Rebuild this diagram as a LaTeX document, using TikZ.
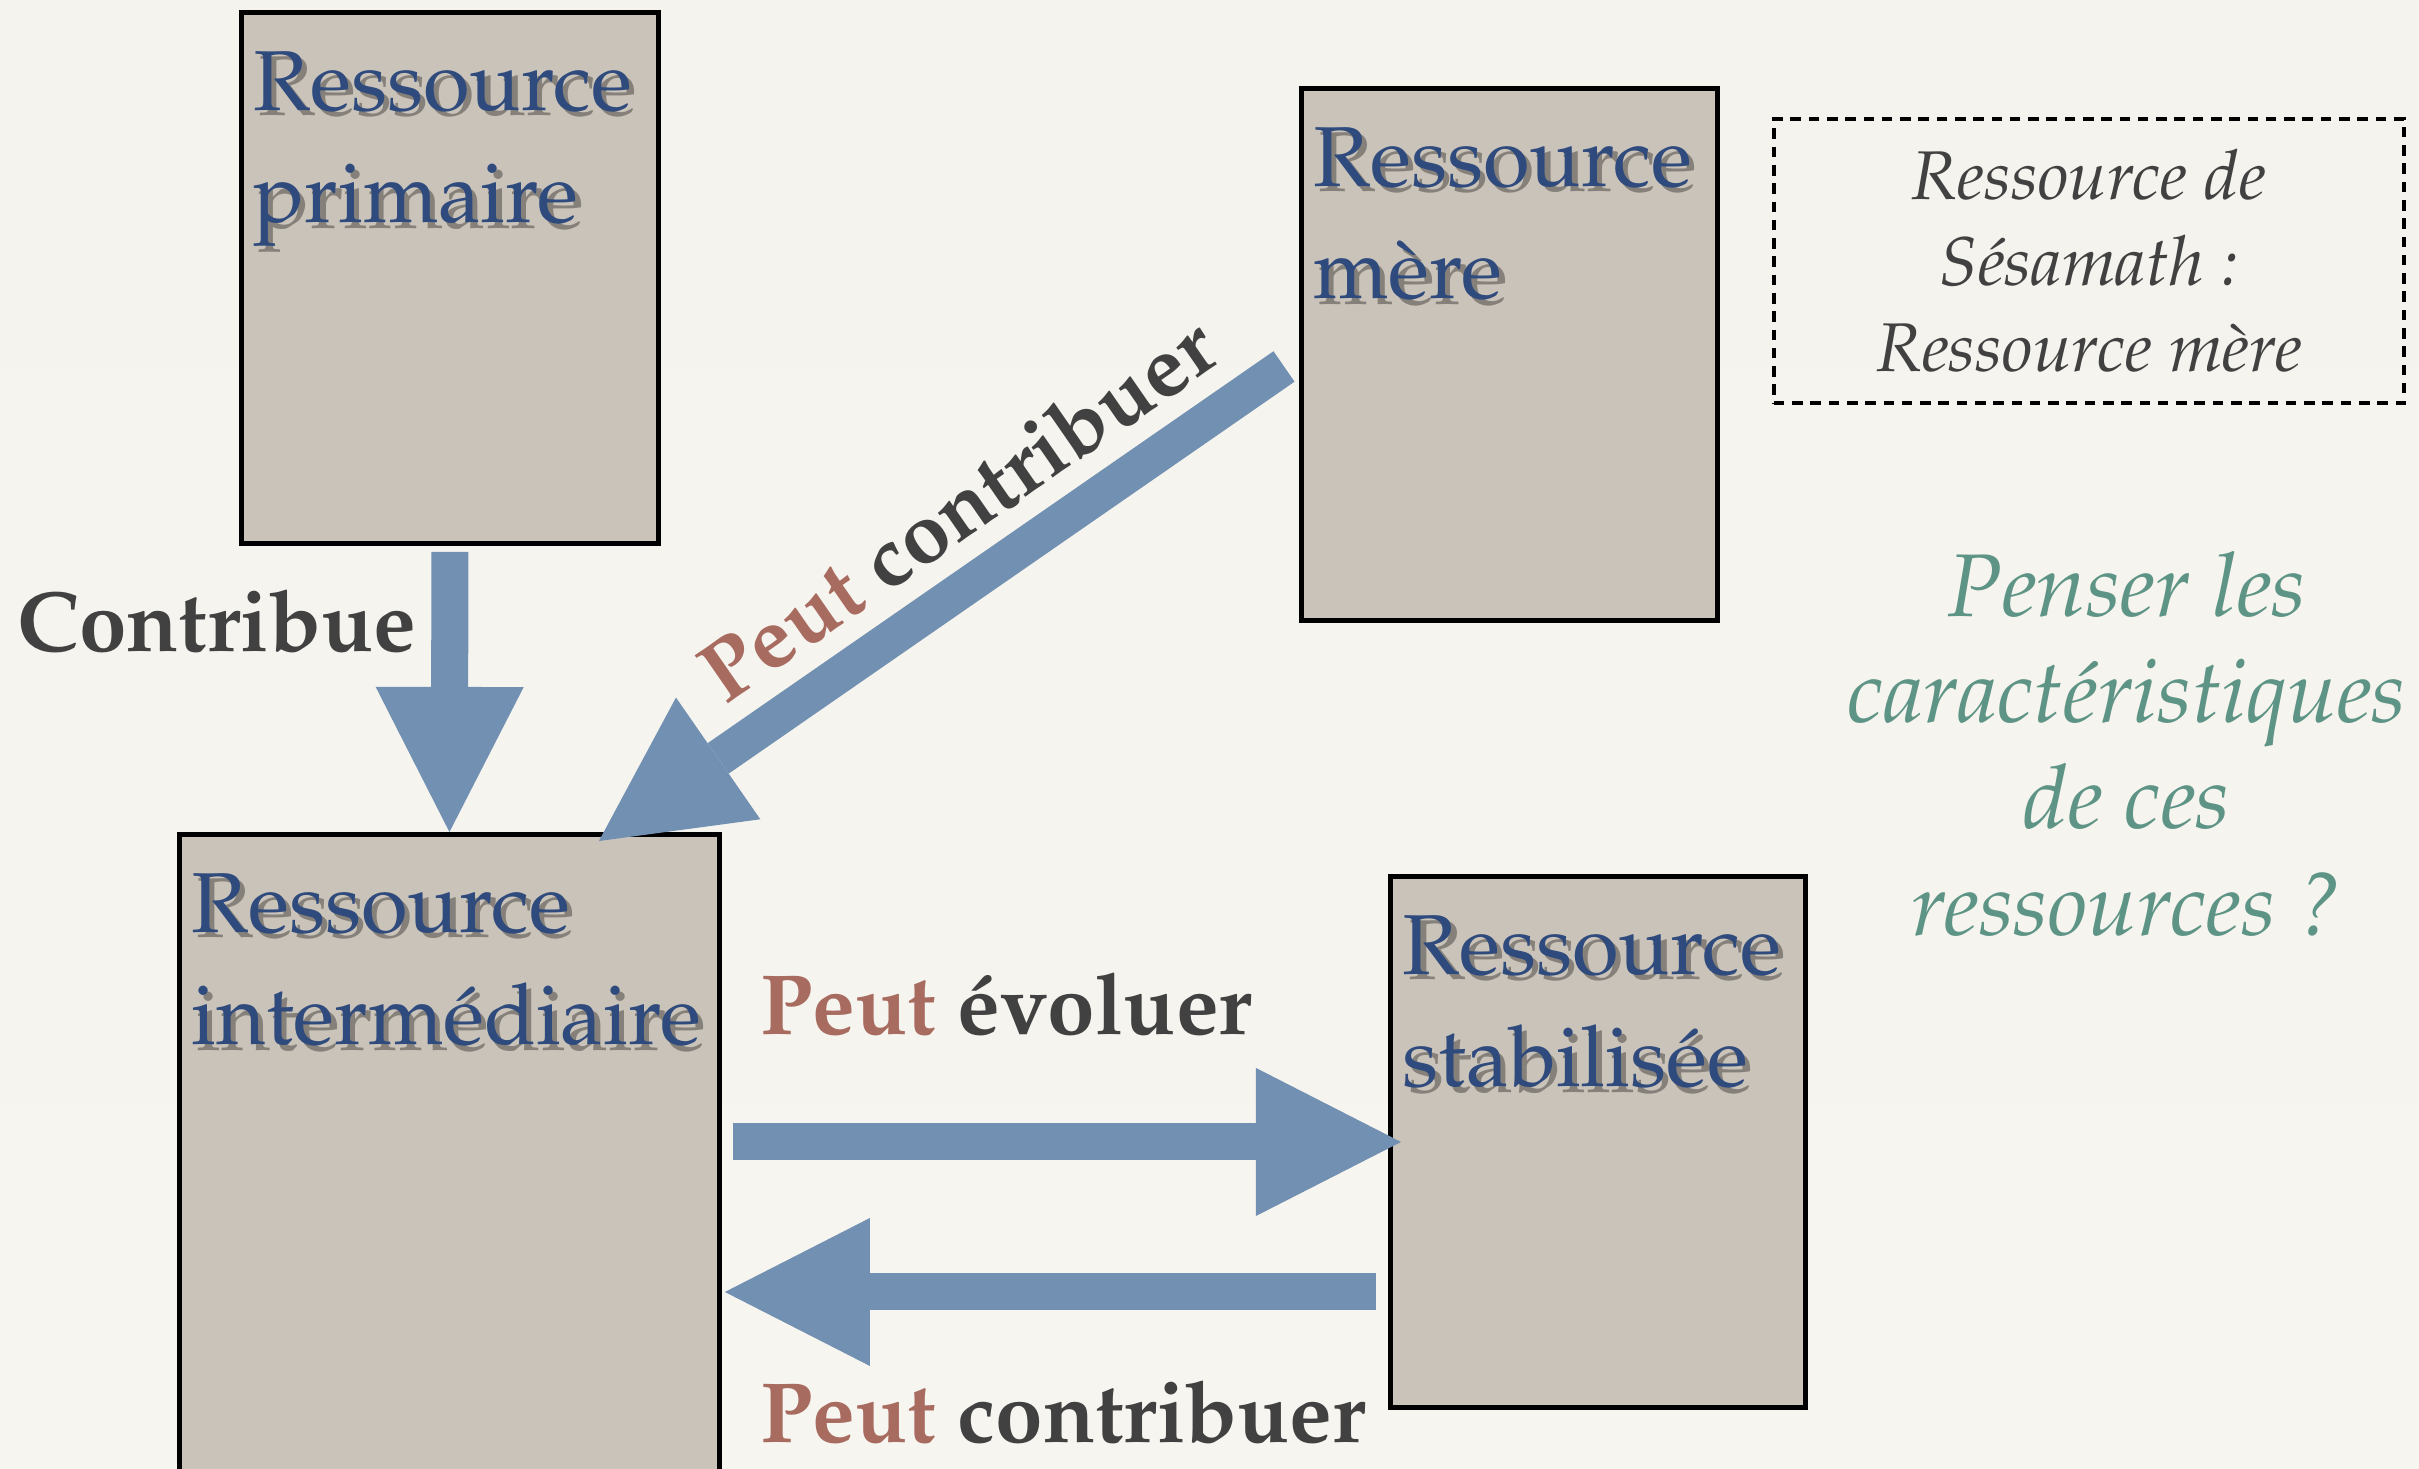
\documentclass[tikz,border=0pt]{standalone}
\usepackage[T1]{fontenc}
\usepackage{mathpazo}
\usetikzlibrary{arrows.meta}

\definecolor{fondhaut}{RGB}{245,243,237}
\definecolor{fondmilieu}{RGB}{224,221,215}
\definecolor{fondbas}{RGB}{247,245,240}
\definecolor{boxfill}{RGB}{202,195,185}
\definecolor{resblue}{RGB}{47,74,124}
\definecolor{arrowblue}{RGB}{114,145,178}
\definecolor{peutred}{RGB}{168,107,96}
\definecolor{darktext}{RGB}{65,65,65}
\definecolor{questgreen}{RGB}{94,148,133}

% texte avec ombre portee
\newcommand{\ombre}[1]{\makebox[0pt][l]{\hspace{1.5pt}\raisebox{-1.5pt}{\textcolor{boxfill!66!black}{#1}}}#1}

\tikzset{
  resbox/.style={draw=black, line width=1.3pt, fill=boxfill, inner sep=0pt, anchor=north west},
  restext/.style={anchor=north west, inner sep=0pt, align=left, text=resblue,
    font=\fontsize{24.2}{31.9}\selectfont},
  bigarrow/.style={draw=arrowblue, line width=0.37cm,
    -{Triangle[width=1.48cm, length=1.45cm, line width=0pt]}},
  lbl/.style={inner sep=0pt, anchor=base west, text=darktext,
    font=\fontsize{24.3}{30}\selectfont\bfseries},
}

\begin{document}
\begin{tikzpicture}[x=0.01cm, y=-0.01cm]
\clip (0,0) rectangle (2419,1468);
\shade[top color=fondhaut, middle color=fondmilieu, bottom color=fondbas] (0,0) rectangle (2419,1468);

% les quatre ressources
\node[resbox, minimum width=4.17cm, minimum height=5.31cm] (prim) at (239,10) {};
\node[resbox, minimum width=4.16cm, minimum height=5.32cm] (mere) at (1299,86) {};
\node[resbox, minimum width=5.40cm, minimum height=6.80cm] (inter) at (177,832) {};
\node[resbox, minimum width=4.15cm, minimum height=5.31cm] (stab) at (1388,874) {};

\node[restext] (primtxt) at ([shift={(14,41)}]prim.north west) {\ombre{Ressource}\\\ombre{primaire}};
\node[restext] (meretxt) at ([shift={(14,41)}]mere.north west) {\ombre{Ressource}\\\ombre{m\`ere}};
\node[restext] (intertxt) at ([shift={(14,41)}]inter.north west) {\ombre{Ressource}\\\ombre{interm\'ediaire}};
\node[restext] (stabtxt) at ([shift={(14,41)}]stab.north west) {\ombre{Ressource}\\\ombre{stabilis\'ee}};

% fleches
\draw[bigarrow, shorten <=0.06cm] (prim.south) -- (inter.north);
\node[lbl, anchor=base east] (contribue) at (417,651) {Contribue};

\draw[bigarrow] ([shift={(-15,12)}]mere.west) -- ([shift={(-123,9)}]inter.north east)
  node[pos=.42, sloped, anchor=south, inner sep=0.2cm, text=darktext,
    font=\fontsize{24.3}{30}\selectfont\bfseries] (peutdiag) {\textcolor{peutred}{Peut} contribuer};

\coordinate (evolA) at (inter.east |- stab.west);
\draw[bigarrow] ([xshift=0.11cm]evolA) -- ([xshift=0.13cm]stab.west);
\node[lbl] (evol) at (760,1034) {\textcolor{peutred}{Peut} \'evoluer};

\coordinate (contA) at ([shift={(-12,150)}]stab.west);
\coordinate (contB) at (contA -| inter.east);
\draw[bigarrow] (contA) -- ([xshift=0.03cm]contB);
\node[lbl] (contrib) at (760,1442) {\textcolor{peutred}{Peut} contribuer};

% encadre et question
\node[draw=black, line width=1.2pt, dash pattern=on 3pt off 2.2pt, minimum width=6.30cm,
  minimum height=2.84cm, align=center, text=darktext,
  font=\fontsize{19.6}{24.5}\selectfont\itshape] (sesa) at (2089,261)
  {Ressource de\\S\'esamath :\\Ressource m\`ere};
\node[align=center, text=questgreen, font=\fontsize{25.3}{30.2}\selectfont\itshape] (question)
  at (2127,744) {Penser les\\caract\'eristiques\\de ces\\ressources ?};
\end{tikzpicture}
\end{document}
